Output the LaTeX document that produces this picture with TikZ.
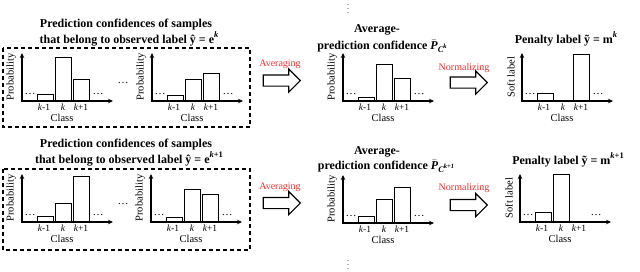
\documentclass[tikz,border=0pt]{standalone}
\usepackage{amsmath}
\usepackage{fontspec}
\setmainfont{Liberation Serif}
\usetikzlibrary{arrows.meta,shapes.arrows}
\definecolor{lblred}{RGB}{245,45,45}
\newcommand{\bitx}[1]{\text{\bfseries\itshape #1}}
\newcommand{\supx}[1]{\raisebox{0.42em}{\fontsize{8.5}{8.5}\selectfont #1}}
\newcommand{\pbarsub}[1]{$\bar{\bitx{P}}$\raisebox{-0.3em}{\fontsize{8.5}{8.5}\selectfont\bfseries\itshape C\raisebox{0.45em}{\fontsize{6.5}{6.5}\selectfont #1}}}
\tikzset{
  axisline/.style={line width=1.1pt,{Stealth[length=5pt,width=4.5pt]}-{Stealth[length=5pt,width=4.5pt]}},
  barbox/.style={draw,line width=1pt},
  ticklbl/.style={font=\fontsize{9.5}{10}\selectfont,inner sep=0pt},
  axlbl/.style={font=\fontsize{10.5}{11}\selectfont,inner sep=0pt},
  dotlbl/.style={font=\fontsize{11}{10}\selectfont,inner sep=0pt,anchor=base},
  titlelbl/.style={font=\bfseries\fontsize{12}{14}\selectfont,inner sep=0pt,anchor=base},
  redlbl/.style={font=\fontsize{10}{12}\selectfont,text=lblred,inner sep=0pt},
  bigarrow/.style={single arrow,draw,line width=1.1pt,minimum height=37pt,inner sep=5pt,single arrow head extend=6pt},
  dashbox/.style={draw,line width=1.1pt,dash pattern=on 4pt off 3pt},
}
\newcommand{\barchart}[7]{%
\begin{scope}[shift={(#1,#2)}]
\coordinate (#7-o) at (0,0);
\coordinate (#7-yt) at (0,-48);
\coordinate (#7-xr) at (91,0);
\ifdim#3pt>0pt\draw[barbox] (15,0) rectangle (31,-#3);\fi
\ifdim#4pt>0pt\draw[barbox] (33,0) rectangle (49,-#4);\fi
\ifdim#5pt>0pt\draw[barbox] (51,0) rectangle (67,-#5);\fi
\draw[axisline] (#7-yt) -- (#7-o) -- (#7-xr);
\node[ticklbl] (#7-a) at (22,6.5) {\textit{k}-1};
\node[ticklbl] (#7-b) at (41,6.5) {\textit{k}};
\node[ticklbl] (#7-c) at (59,6.5) {\textit{k}+1};
\node[axlbl] (#7-x) at (40,17) {Class};
\node[axlbl,rotate=90] (#7-y) at (-11,-24) {#6};
\node[dotlbl] (#7-l) at (8,-7) {\dots};
\node[dotlbl] (#7-r) at (76,-7) {\dots};
\end{scope}}
\begin{document}
\begin{tikzpicture}[x=1pt,y=-1pt]
\useasboundingbox (0,0) rectangle (640,271);
% vertical ellipses
\node[inner sep=0pt,font=\fontsize{8}{8}\selectfont] (vtop) at (348,6) {$\vdots$};
\node[inner sep=0pt,font=\fontsize{8}{8}\selectfont] (vbot) at (348,262) {$\vdots$};
% ---------- top row ----------
\node[titlelbl] (t1a) at (126,27) {Prediction confidences of samples};
\node[titlelbl] (t1b) at (129,43) {that belong to observed label ŷ = e\supx{\textit{k}}};
\draw[dashbox] (3,48) rectangle (250,127);
\barchart{22}{101}{7}{44}{22}{Probability}{c1}
\barchart{152}{101}{6}{22}{28}{Probability}{c2}
\node[dotlbl] (mid1) at (123,83) {\dots};
\node[redlbl] (av1) at (280,64) {Averaging};
\node[bigarrow] (ar1) at (279,80.5) {};
\node[titlelbl] (t2a) at (377,32) {Average-};
\node[titlelbl] (t2b) at (382,49) {prediction confidence \pbarsub{k}};
\barchart{343}{101}{4}{37}{23}{Probability}{c3}
\node[redlbl] (no1) at (464,68) {Normalizing};
\node[bigarrow] (ar2) at (466,82.5) {};
\node[titlelbl] (t3) at (566,43) {Penalty label ỹ = m\supx{\textit{k}}};
\barchart{522}{101}{8}{0}{47}{Soft label}{c4}
% ---------- bottom row ----------
\node[titlelbl] (b1a) at (126,147) {Prediction confidences of samples};
\node[titlelbl] (b1b) at (129,163) {that belong to observed label ŷ = e\supx{\textit{k}+1}};
\draw[dashbox] (3,169) rectangle (250,250);
\barchart{22}{222}{6}{19}{46}{Probability}{d1}
\barchart{151}{222}{5}{33}{28}{Probability}{d2}
\node[dotlbl] (mid2) at (123,204) {\dots};
\node[redlbl] (av2) at (280,187) {Averaging};
\node[bigarrow] (ar3) at (279,203) {};
\node[titlelbl] (b2a) at (377,154) {Average-};
\node[titlelbl] (b2b) at (386,169) {prediction confidence \pbarsub{k+1}};
\barchart{343}{223}{7}{24}{36}{Probability}{d3}
\node[redlbl] (no2) at (464,188) {Normalizing};
\node[bigarrow] (ar4) at (466,205) {};
\node[titlelbl] (b3) at (568,164) {Penalty label ỹ = m\supx{\textit{k}+1}};
\barchart{520}{222}{10}{48}{0}{Soft label}{d4}
\end{tikzpicture}
\end{document}
